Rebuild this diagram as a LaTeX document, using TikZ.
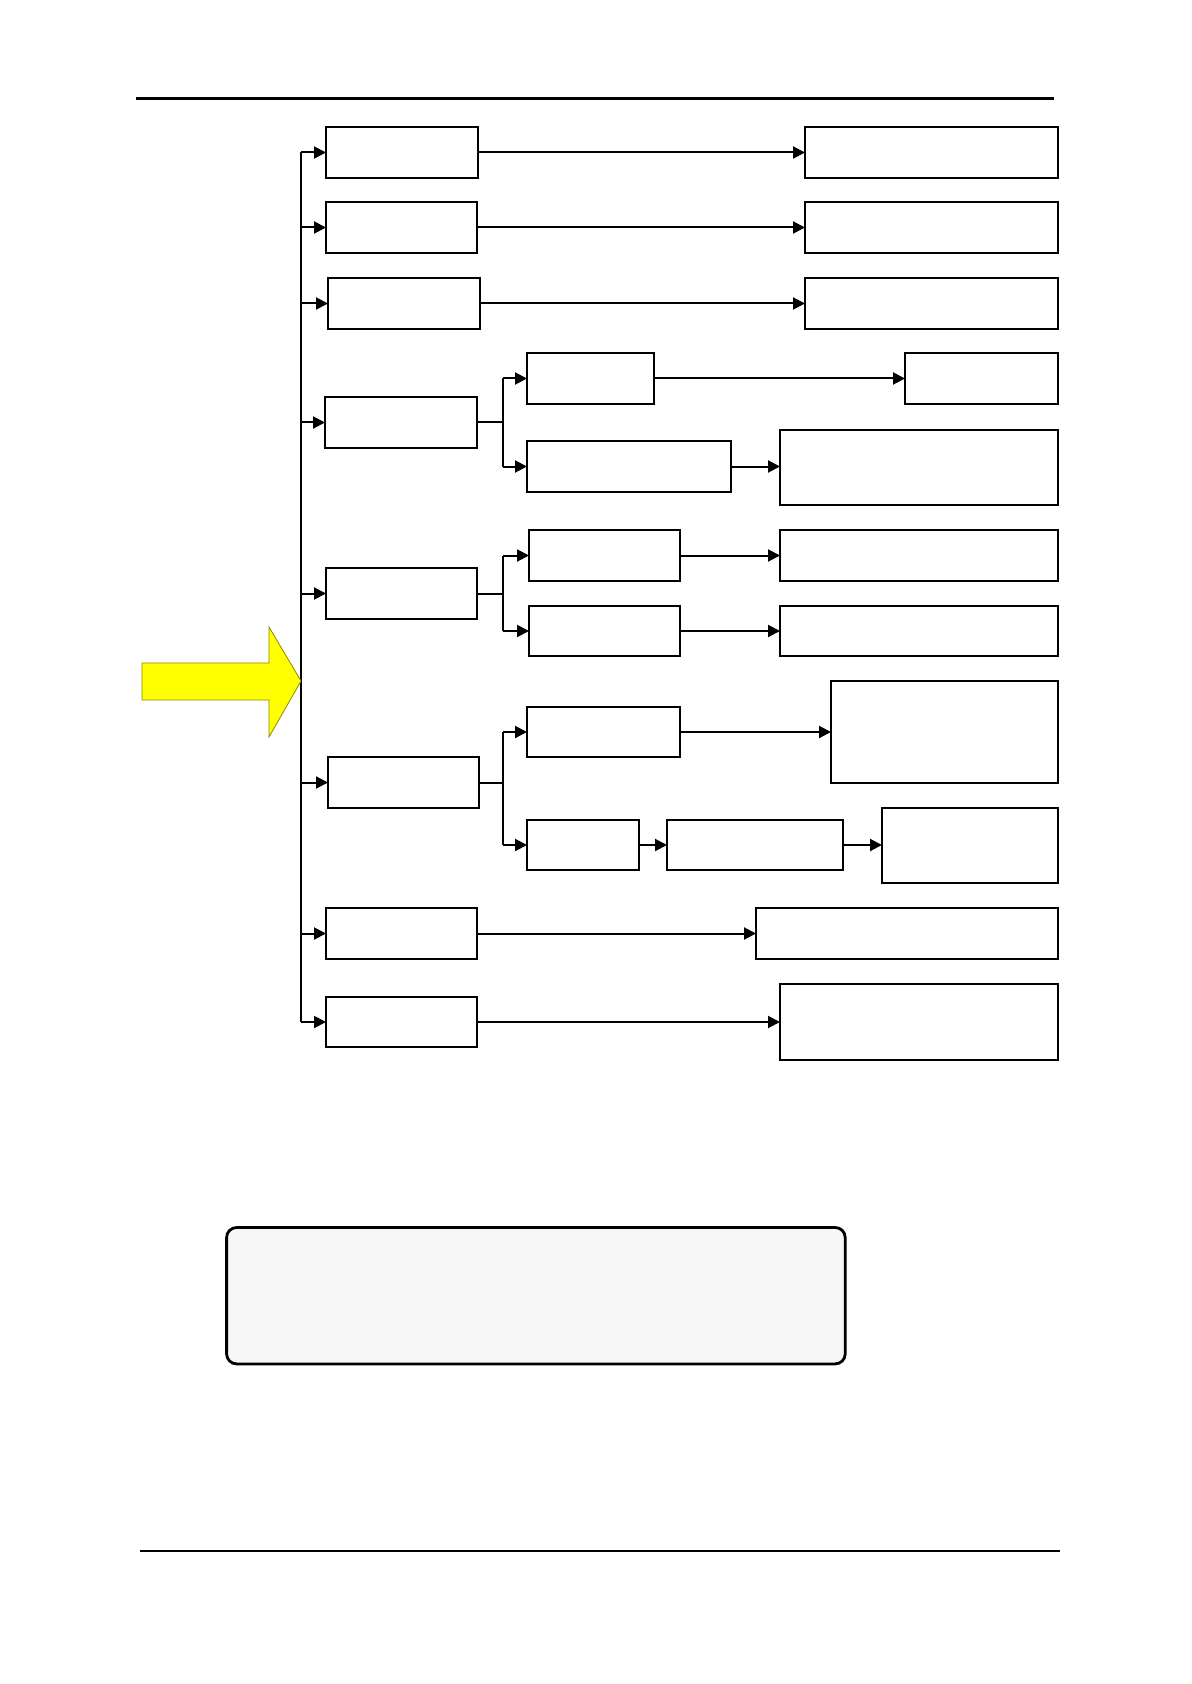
\documentclass[tikz,border=0pt]{standalone}
\usetikzlibrary{arrows.meta}
\definecolor{panel}{HTML}{F7F7F7}
\definecolor{arrowyellow}{HTML}{FFFF00}
\definecolor{arrowedge}{HTML}{8A8A00}
\tikzset{
  box/.style={draw=black,line width=1pt,inner sep=0pt,outer sep=0pt,fill=white},
  arr/.style={line width=1pt,-{Triangle[length=6pt,width=6pt]}},
  ln/.style={line width=1pt},
}
\newcommand\bx[5]{\node[box,minimum width=#4*0.5pt,minimum height=#5*0.5pt,anchor=north west] (#1) at (#2,#3) {};}
\begin{document}
\begin{tikzpicture}[x=0.5pt,y=-0.5pt]
\useasboundingbox (0,0) rectangle (1191,1684);
% header and footer rules
\draw[line width=1.5pt] (136,99) -- (1054,99);
\draw[line width=0.9pt] (140,1551) -- (1060,1551);
% boxes
\bx{L1}{326}{127}{152}{51}
\bx{R1}{805}{127}{253}{51}
\bx{L2}{326}{202}{151}{51}
\bx{R2}{805}{202}{253}{51}
\bx{L3}{328}{278}{152}{51}
\bx{R3}{805}{278}{253}{51}
\bx{L4}{325}{397}{152}{51}
\bx{A4}{527}{353}{127}{51}
\bx{RA4}{905}{353}{153}{51}
\bx{B4}{527}{441}{204}{51}
\bx{RB4}{780}{430}{278}{75}
\bx{L5}{326}{568}{151}{51}
\bx{A5}{529}{530}{151}{51}
\bx{RA5}{780}{530}{278}{51}
\bx{B5}{529}{606}{151}{50}
\bx{RB5}{780}{606}{278}{50}
\bx{L6}{328}{757}{151}{51}
\bx{A6}{527}{707}{153}{50}
\bx{RA6}{831}{681}{227}{102}
\bx{B6a}{527}{820}{112}{50}
\bx{B6b}{667}{820}{176}{50}
\bx{B6c}{882}{808}{176}{75}
\bx{L7}{326}{908}{151}{51}
\bx{R7}{756}{908}{302}{51}
\bx{L8}{326}{997}{151}{50}
\bx{R8}{780}{984}{278}{76}
% bus and branch coordinates
\coordinate (bus) at (301,0);
\coordinate (br) at (503,0);
\draw[ln] (L1.west -| bus) -- (L8.west -| bus);
\foreach \n in {L1,L2,L3,L4,L5,L6,L7,L8}{
  \draw[arr] (\n.west -| bus) -- (\n.west);
}
% straight rows
\draw[arr] (L1.east) -- (R1.west);
\draw[arr] (L2.east) -- (R2.west);
\draw[arr] (L3.east) -- (R3.west);
\draw[arr] (L7.east) -- (R7.west);
\draw[arr] (L8.east) -- (R8.west);
% row 4
\draw[ln] (L4.east) -- (L4.east -| br);
\draw[ln] (A4.west -| br) -- (B4.west -| br);
\draw[arr] (A4.west -| br) -- (A4.west);
\draw[arr] (B4.west -| br) -- (B4.west);
\draw[arr] (A4.east) -- (RA4.west);
\draw[arr] (B4.east) -- (RB4.west |- B4.east);
% row 5
\draw[ln] (L5.east) -- (L5.east -| br);
\draw[ln] (A5.west -| br) -- (B5.west -| br);
\draw[arr] (A5.west -| br) -- (A5.west);
\draw[arr] (B5.west -| br) -- (B5.west);
\draw[arr] (A5.east) -- (RA5.west);
\draw[arr] (B5.east) -- (RB5.west);
% row 6
\draw[ln] (L6.east) -- (L6.east -| br);
\draw[ln] (A6.west -| br) -- (B6a.west -| br);
\draw[arr] (A6.west -| br) -- (A6.west);
\draw[arr] (B6a.west -| br) -- (B6a.west);
\draw[arr] (A6.east) -- (RA6.west |- A6.east);
\draw[arr] (B6a.east) -- (B6b.west);
\draw[arr] (B6b.east) -- (B6c.west |- B6b.east);
% yellow arrow
\draw[fill=arrowyellow,draw=arrowedge,line width=0.4pt]
  (142,663) -- (269,663) -- (269,627) -- (301,681) -- (269,737) -- (269,700) -- (142,700) -- cycle;
% bottom panel
\node[draw=black,line width=1.4pt,fill=panel,rounded corners=5pt,inner sep=0pt,outer sep=0pt,
  minimum width=618.6*0.5pt,minimum height=136.4*0.5pt,anchor=north west] (panel) at (226.6,1227.5) {};
\end{tikzpicture}
\end{document}
